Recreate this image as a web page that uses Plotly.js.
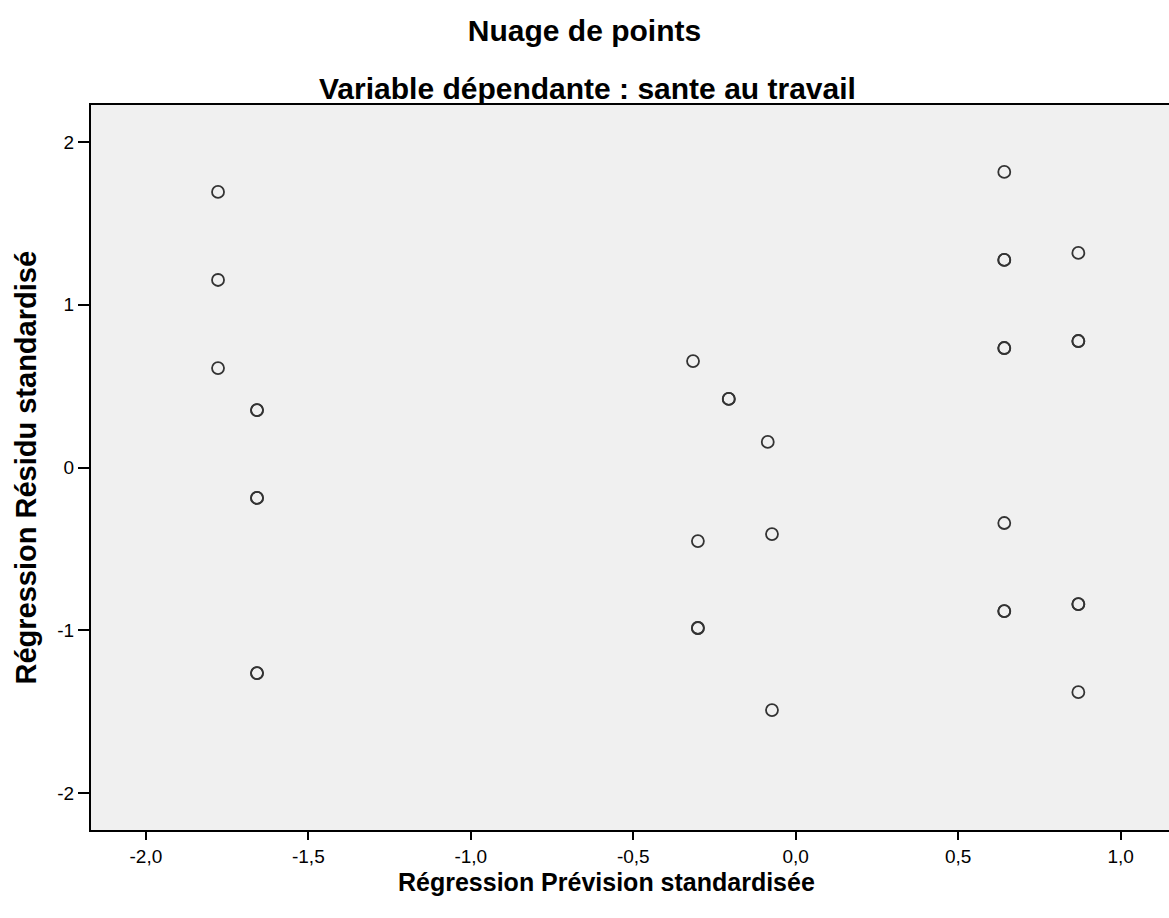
<!DOCTYPE html>
<html>
<head>
<meta charset="utf-8">
<script src="https://cdn.plot.ly/plotly-3.0.1.min.js"></script>
<style>html,body{margin:0;padding:0;background:#fff;}#chart{width:1169px;height:918px;}</style>
</head>
<body>
<div id="chart"></div>
<script>
// Standardized predicted values (x) and standardized residuals (y); repeated pairs are overlapping cases
const predicted = [
  -1.778, -1.778, -1.778,
  -1.658, -1.658, -1.658, -1.658, -1.658, -1.658,
  -0.316, -0.206, -0.206, -0.086, -0.073, -0.301, -0.301, -0.301, -0.073,
  0.642, 0.642, 0.642, 0.642, 0.642, 0.642, 0.642, 0.642,
  0.870, 0.870, 0.870, 0.870, 0.870, 0.870
];
const residuals = [
  1.693, 1.152, 0.611,
  0.353, 0.353, -0.187, -0.187, -1.263, -1.263,
  0.654, 0.421, 0.421, 0.157, -0.409, -0.452, -0.986, -0.986, -1.490,
  1.816, 1.275, 1.275, 0.734, 0.734, -0.341, -0.882, -0.882,
  1.318, 0.777, 0.777, -0.839, -0.839, -1.380
];
const xTickVals = [-2.0, -1.5, -1.0, -0.5, 0.0, 0.5, 1.0];
const xTickText = ["-2,0", "-1,5", "-1,0", "-0,5", "0,0", "0,5", "1,0"];
const yTickVals = [-2, -1, 0, 1, 2];
const yTickText = ["-2", "-1", "0", "1", "2"];
const chartTitle = "Nuage de points";
const chartSubtitle = "Variable dépendante : sante au travail";
const xTitle = "Régression Prévision standardisée";
const yTitle = "Régression Résidu standardisé";

const FONT = "Liberation Sans, Arial, sans-serif";
const W = 1169, H = 918, L = 91, R = 0, T = 105, B = 88;
const PW = W - L - R, PH = H - T - B;

const trace = {
  x: predicted,
  y: residuals,
  type: "scatter",
  mode: "markers",
  marker: {
    symbol: "circle-open",
    size: 12,
    color: "#333333",
    line: {width: 1.8, color: "#333333"}
  },
  hoverinfo: "x+y",
  showlegend: false
};

const layout = {
  width: W,
  height: H,
  margin: {l: L, r: R, t: T, b: B},
  paper_bgcolor: "#ffffff",
  plot_bgcolor: "#f0f0f0",
  font: {family: FONT, color: "#000"},
  title: {
    text: "<b>" + chartTitle + "</b>",
    font: {family: FONT, size: 30, color: "#000"},
    x: 0.5, xref: "container", xanchor: "center",
    y: 1 - 30 / H, yref: "container", yanchor: "middle"
  },
  annotations: [
    {
      text: "<b>" + chartSubtitle + "</b>",
      xref: "paper", yref: "paper",
      x: (587 - L) / PW, xanchor: "center",
      y: 1 + (T - 88) / PH, yanchor: "middle",
      showarrow: false,
      font: {family: FONT, size: 30, color: "#000"}
    },
    {
      text: "<b>" + xTitle + "</b>",
      xref: "paper", yref: "paper",
      x: (606 - L) / PW, xanchor: "center",
      y: -(882 - (T + PH)) / PH, yanchor: "middle",
      showarrow: false,
      font: {family: FONT, size: 25, color: "#000"}
    },
    {
      text: "<b>" + yTitle + "</b>",
      xref: "paper", yref: "paper",
      x: -(L - 25) / PW, xanchor: "center",
      y: 0.5, yanchor: "middle",
      textangle: -90,
      showarrow: false,
      font: {family: FONT, size: 29, color: "#000"}
    }
  ],
  xaxis: {
    range: [-2.169, 1.149],
    tickvals: xTickVals,
    ticktext: xTickText,
    ticks: "outside",
    ticklen: 8,
    tickwidth: 2,
    tickcolor: "#000",
    tickfont: {family: FONT, size: 19, color: "#000"},
    showline: true,
    linecolor: "#000",
    linewidth: 2,
    mirror: true,
    showgrid: false,
    zeroline: false
  },
  yaxis: {
    range: [-2.227, 2.227],
    tickvals: yTickVals,
    ticktext: yTickText,
    ticks: "outside",
    ticklen: 11,
    tickwidth: 2,
    tickcolor: "#000",
    tickfont: {family: FONT, size: 19, color: "#000"},
    showline: true,
    linecolor: "#000",
    linewidth: 2,
    showgrid: false,
    zeroline: false
  }
};

Plotly.newPlot("chart", [trace], layout, {displayModeBar: false, staticPlot: true});
</script>
</body>
</html>
